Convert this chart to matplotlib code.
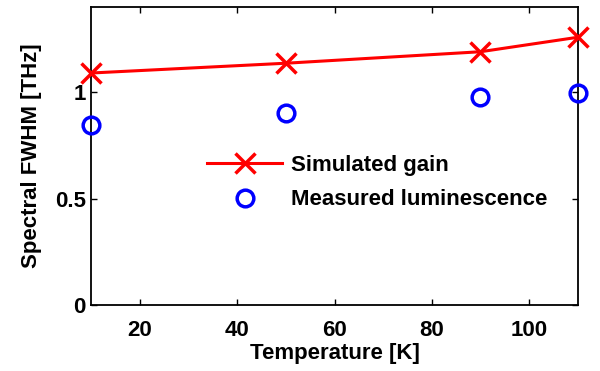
import matplotlib
matplotlib.use("Agg")
import matplotlib.pyplot as plt

# Data
temp = [10, 50, 90, 110]
sim_gain = [1.09, 1.136, 1.19, 1.258]
meas_lum = [0.845, 0.90, 0.977, 0.995]

plt.rcParams["font.family"] = ["Liberation Sans", "DejaVu Sans"]
plt.rcParams["font.weight"] = "bold"
plt.rcParams["font.size"] = 16

fig = plt.figure(figsize=(6, 3.71), dpi=100)
ax = fig.add_axes([0.152, 0.178, 0.811, 0.803])

ax.plot(temp, sim_gain, color="red", lw=2.2, marker="x", ms=14, mew=2.5,
        label="Simulated gain", clip_on=False, zorder=3)
ax.plot(temp, meas_lum, ls="none", marker="o", ms=12, mew=2.5, mfc="none",
        mec="blue", label="Measured luminescence", clip_on=False, zorder=3)

ax.set_xlim(10, 110)
ax.set_ylim(0, 1.4)
ax.set_xticks([20, 40, 60, 80, 100])
ax.set_yticks([0, 0.5, 1])
ax.set_yticklabels(["0", "0.5", "1"])

ax.tick_params(direction="in", length=4, width=1, top=True, right=True,
               labelsize=16)
ax.tick_params(axis="x", pad=11)
ax.tick_params(axis="y", pad=4)
for s in ax.spines.values():
    s.set_linewidth(1.3)

ax.set_xlabel("Temperature [K]", fontsize=16, fontweight="bold", labelpad=1)
ax.set_ylabel("Spectral FWHM [THz]", fontsize=16, fontweight="bold", labelpad=9)

ax.legend(loc="center left", bbox_to_anchor=(0.215, 0.41), frameon=False,
          borderpad=0, handlelength=3.4, handletextpad=0.4, labelspacing=0.6,
          prop={"weight": "bold", "size": 16})

fig.savefig("out.png", dpi=100)
